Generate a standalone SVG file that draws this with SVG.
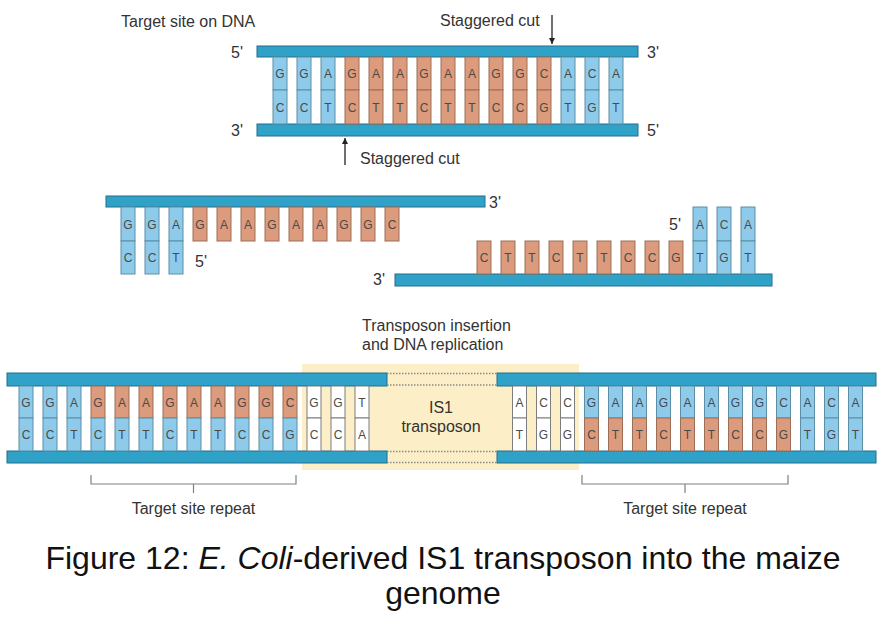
<svg xmlns="http://www.w3.org/2000/svg" width="887" height="619" viewBox="0 0 887 619">
<style>
.bar{fill:#30a2c7;stroke:#226f8e;stroke-width:1}
.b{fill:#8ecbea;stroke:#5d8ea6;stroke-width:1}
.o{fill:#db9b7c;stroke:#9c6e58;stroke-width:1}
.w{fill:#ffffff;stroke:#7d7d7d;stroke-width:1}
.n{font-family:"Liberation Sans",Arial,sans-serif;font-size:12px;fill:#4a4a4a;text-anchor:middle}
.lbl{font-family:"Liberation Sans",Arial,sans-serif;font-size:16px;fill:#333333}
.mid{text-anchor:middle}
.dot{stroke:#8a8a8a;stroke-width:1.3;stroke-dasharray:1.5 1.5;fill:none}
.brk{stroke:#808080;stroke-width:1.2;fill:none}
.arr{stroke:#222;stroke-width:1.3;fill:none}
.cap{font-family:"Liberation Sans",Arial,sans-serif;font-size:32px;fill:#111111;text-anchor:middle}
</style>
<defs>
<marker id="ah" viewBox="0 0 10 10" refX="10" refY="5" markerWidth="6" markerHeight="6" orient="auto" markerUnits="userSpaceOnUse">
<path d="M0,0 L10,5 L0,10 z" fill="#222"/>
</marker>
</defs>
<rect width="887" height="619" fill="#ffffff"/>

<g id="target-site">
<text class="lbl" x="121" y="27">Target site on DNA</text>
<rect class="bar" x="257" y="46" width="381" height="11"/>
<rect class="bar" x="257" y="124" width="381" height="12"/>
<text class="lbl" x="231" y="57.5">5'</text>
<text class="lbl" x="647" y="57.5">3'</text>
<text class="lbl" x="231" y="136">3'</text>
<text class="lbl" x="647" y="136">5'</text>
<g>
<rect class="b" x="273" y="57" width="14" height="33"/><rect class="b" x="273" y="90" width="14" height="34"/>
<rect class="b" x="297" y="57" width="14" height="33"/><rect class="b" x="297" y="90" width="14" height="34"/>
<rect class="b" x="321" y="57" width="14" height="33"/><rect class="b" x="321" y="90" width="14" height="34"/>
<rect class="o" x="345" y="57" width="14" height="33"/><rect class="o" x="345" y="90" width="14" height="34"/>
<rect class="o" x="369" y="57" width="14" height="33"/><rect class="o" x="369" y="90" width="14" height="34"/>
<rect class="o" x="393" y="57" width="14" height="33"/><rect class="o" x="393" y="90" width="14" height="34"/>
<rect class="o" x="417" y="57" width="14" height="33"/><rect class="o" x="417" y="90" width="14" height="34"/>
<rect class="o" x="441" y="57" width="14" height="33"/><rect class="o" x="441" y="90" width="14" height="34"/>
<rect class="o" x="465" y="57" width="14" height="33"/><rect class="o" x="465" y="90" width="14" height="34"/>
<rect class="o" x="489" y="57" width="14" height="33"/><rect class="o" x="489" y="90" width="14" height="34"/>
<rect class="o" x="513" y="57" width="14" height="33"/><rect class="o" x="513" y="90" width="14" height="34"/>
<rect class="o" x="537" y="57" width="14" height="33"/><rect class="o" x="537" y="90" width="14" height="34"/>
<rect class="b" x="561" y="57" width="14" height="33"/><rect class="b" x="561" y="90" width="14" height="34"/>
<rect class="b" x="585" y="57" width="14" height="33"/><rect class="b" x="585" y="90" width="14" height="34"/>
<rect class="b" x="609" y="57" width="14" height="33"/><rect class="b" x="609" y="90" width="14" height="34"/>
</g>
<g>
<text class="n" x="280" y="78">G</text><text class="n" x="280" y="111.5">C</text>
<text class="n" x="304" y="78">G</text><text class="n" x="304" y="111.5">C</text>
<text class="n" x="328" y="78">A</text><text class="n" x="328" y="111.5">T</text>
<text class="n" x="352" y="78">G</text><text class="n" x="352" y="111.5">C</text>
<text class="n" x="376" y="78">A</text><text class="n" x="376" y="111.5">T</text>
<text class="n" x="400" y="78">A</text><text class="n" x="400" y="111.5">T</text>
<text class="n" x="424" y="78">G</text><text class="n" x="424" y="111.5">C</text>
<text class="n" x="448" y="78">A</text><text class="n" x="448" y="111.5">T</text>
<text class="n" x="472" y="78">A</text><text class="n" x="472" y="111.5">T</text>
<text class="n" x="496" y="78">G</text><text class="n" x="496" y="111.5">C</text>
<text class="n" x="520" y="78">G</text><text class="n" x="520" y="111.5">C</text>
<text class="n" x="544" y="78">C</text><text class="n" x="544" y="111.5">G</text>
<text class="n" x="568" y="78">A</text><text class="n" x="568" y="111.5">T</text>
<text class="n" x="592" y="78">C</text><text class="n" x="592" y="111.5">G</text>
<text class="n" x="616" y="78">A</text><text class="n" x="616" y="111.5">T</text>
</g>
<text class="lbl" x="440" y="25.5">Staggered cut</text>
<text class="lbl" x="360" y="164">Staggered cut</text>
</g>

<g id="cut-left">
<rect class="bar" x="106" y="196" width="379" height="11"/>
<text class="lbl" x="489" y="207.5">3'</text>
<text class="lbl" x="195" y="267">5'</text>
<rect class="b" x="121" y="207" width="14" height="34"/><rect class="b" x="121" y="241" width="14" height="33"/>
<rect class="b" x="145" y="207" width="14" height="34"/><rect class="b" x="145" y="241" width="14" height="33"/>
<rect class="b" x="169" y="207" width="14" height="34"/><rect class="b" x="169" y="241" width="14" height="33"/>
<rect class="o" x="193" y="207" width="14" height="34"/>
<rect class="o" x="217" y="207" width="14" height="34"/>
<rect class="o" x="241" y="207" width="14" height="34"/>
<rect class="o" x="265" y="207" width="14" height="34"/>
<rect class="o" x="289" y="207" width="14" height="34"/>
<rect class="o" x="313" y="207" width="14" height="34"/>
<rect class="o" x="337" y="207" width="14" height="34"/>
<rect class="o" x="361" y="207" width="14" height="34"/>
<rect class="o" x="385" y="207" width="14" height="34"/>
<text class="n" x="128" y="228.5">G</text><text class="n" x="128" y="262">C</text>
<text class="n" x="152" y="228.5">G</text><text class="n" x="152" y="262">C</text>
<text class="n" x="176" y="228.5">A</text><text class="n" x="176" y="262">T</text>
<text class="n" x="200" y="228.5">G</text>
<text class="n" x="224" y="228.5">A</text>
<text class="n" x="248" y="228.5">A</text>
<text class="n" x="272" y="228.5">G</text>
<text class="n" x="296" y="228.5">A</text>
<text class="n" x="320" y="228.5">A</text>
<text class="n" x="344" y="228.5">G</text>
<text class="n" x="368" y="228.5">G</text>
<text class="n" x="392" y="228.5">C</text>
</g>

<g id="cut-right">
<rect class="bar" x="395" y="274" width="377" height="12"/>
<text class="lbl" x="373" y="285">3'</text>
<text class="lbl" x="669" y="229.5">5'</text>
<rect class="o" x="477" y="241" width="14" height="33"/>
<rect class="o" x="501" y="241" width="14" height="33"/>
<rect class="o" x="525" y="241" width="14" height="33"/>
<rect class="o" x="549" y="241" width="14" height="33"/>
<rect class="o" x="573" y="241" width="14" height="33"/>
<rect class="o" x="597" y="241" width="14" height="33"/>
<rect class="o" x="621" y="241" width="14" height="33"/>
<rect class="o" x="645" y="241" width="14" height="33"/>
<rect class="o" x="669" y="241" width="14" height="33"/>
<rect class="b" x="693" y="207" width="14" height="34"/><rect class="b" x="693" y="241" width="14" height="33"/>
<rect class="b" x="717" y="207" width="14" height="34"/><rect class="b" x="717" y="241" width="14" height="33"/>
<rect class="b" x="741" y="207" width="14" height="34"/><rect class="b" x="741" y="241" width="14" height="33"/>
<text class="n" x="484" y="262">C</text>
<text class="n" x="508" y="262">T</text>
<text class="n" x="532" y="262">T</text>
<text class="n" x="556" y="262">C</text>
<text class="n" x="580" y="262">T</text>
<text class="n" x="604" y="262">T</text>
<text class="n" x="628" y="262">C</text>
<text class="n" x="652" y="262">C</text>
<text class="n" x="676" y="262">G</text>
<text class="n" x="700" y="228.5">A</text><text class="n" x="700" y="262">T</text>
<text class="n" x="724" y="228.5">C</text><text class="n" x="724" y="262">G</text>
<text class="n" x="748" y="228.5">A</text><text class="n" x="748" y="262">T</text>
</g>

<g id="insertion-label">
<text class="lbl" x="362" y="331">Transposon insertion</text>
<text class="lbl" x="362" y="350">and DNA replication</text>
</g>

<g id="is1-transposon">
<rect x="302" y="364" width="277" height="106" fill="#fcefc7"/>
<text class="lbl mid" x="441" y="412.5">IS1</text>
<text class="lbl mid" x="441" y="432">transposon</text>
</g>

<g id="result-left">
<rect class="bar" x="7" y="373" width="380" height="13"/>
<rect class="bar" x="7" y="451" width="380" height="12"/>
<rect class="b" x="19" y="386" width="14" height="32"/><rect class="b" x="19" y="418" width="14" height="33"/>
<rect class="b" x="43" y="386" width="14" height="32"/><rect class="b" x="43" y="418" width="14" height="33"/>
<rect class="b" x="67" y="386" width="14" height="32"/><rect class="b" x="67" y="418" width="14" height="33"/>
<rect class="o" x="91" y="386" width="14" height="32"/><rect class="b" x="91" y="418" width="14" height="33"/>
<rect class="o" x="115" y="386" width="14" height="32"/><rect class="b" x="115" y="418" width="14" height="33"/>
<rect class="o" x="139" y="386" width="14" height="32"/><rect class="b" x="139" y="418" width="14" height="33"/>
<rect class="o" x="163" y="386" width="14" height="32"/><rect class="b" x="163" y="418" width="14" height="33"/>
<rect class="o" x="187" y="386" width="14" height="32"/><rect class="b" x="187" y="418" width="14" height="33"/>
<rect class="o" x="211" y="386" width="14" height="32"/><rect class="b" x="211" y="418" width="14" height="33"/>
<rect class="o" x="235" y="386" width="14" height="32"/><rect class="b" x="235" y="418" width="14" height="33"/>
<rect class="o" x="259" y="386" width="14" height="32"/><rect class="b" x="259" y="418" width="14" height="33"/>
<rect class="o" x="283" y="386" width="14" height="32"/><rect class="b" x="283" y="418" width="14" height="33"/>
<rect class="w" x="307" y="386" width="14" height="32"/><rect class="w" x="307" y="418" width="14" height="33"/>
<rect class="w" x="331" y="386" width="14" height="32"/><rect class="w" x="331" y="418" width="14" height="33"/>
<rect class="w" x="355" y="386" width="14" height="32"/><rect class="w" x="355" y="418" width="14" height="33"/>
<text class="n" x="26" y="406.5">G</text><text class="n" x="26" y="439">C</text>
<text class="n" x="50" y="406.5">G</text><text class="n" x="50" y="439">C</text>
<text class="n" x="74" y="406.5">A</text><text class="n" x="74" y="439">T</text>
<text class="n" x="98" y="406.5">G</text><text class="n" x="98" y="439">C</text>
<text class="n" x="122" y="406.5">A</text><text class="n" x="122" y="439">T</text>
<text class="n" x="146" y="406.5">A</text><text class="n" x="146" y="439">T</text>
<text class="n" x="170" y="406.5">G</text><text class="n" x="170" y="439">C</text>
<text class="n" x="194" y="406.5">A</text><text class="n" x="194" y="439">T</text>
<text class="n" x="218" y="406.5">A</text><text class="n" x="218" y="439">T</text>
<text class="n" x="242" y="406.5">G</text><text class="n" x="242" y="439">C</text>
<text class="n" x="266" y="406.5">G</text><text class="n" x="266" y="439">C</text>
<text class="n" x="290" y="406.5">C</text><text class="n" x="290" y="439">G</text>
<text class="n" x="314" y="406.5">G</text><text class="n" x="314" y="439">C</text>
<text class="n" x="338" y="406.5">G</text><text class="n" x="338" y="439">C</text>
<text class="n" x="362" y="406.5">T</text><text class="n" x="362" y="439">A</text>
</g>

<g id="result-right">
<rect class="bar" x="497" y="373" width="379" height="13"/>
<rect class="bar" x="497" y="451" width="379" height="12"/>
<rect class="w" x="512.5" y="386" width="14" height="32"/><rect class="w" x="512.5" y="418" width="14" height="33"/>
<rect class="w" x="536.5" y="386" width="14" height="32"/><rect class="w" x="536.5" y="418" width="14" height="33"/>
<rect class="w" x="560.5" y="386" width="14" height="32"/><rect class="w" x="560.5" y="418" width="14" height="33"/>
<rect class="b" x="584.5" y="386" width="14" height="32"/><rect class="o" x="584.5" y="418" width="14" height="33"/>
<rect class="b" x="608.5" y="386" width="14" height="32"/><rect class="o" x="608.5" y="418" width="14" height="33"/>
<rect class="b" x="632.5" y="386" width="14" height="32"/><rect class="o" x="632.5" y="418" width="14" height="33"/>
<rect class="b" x="656.5" y="386" width="14" height="32"/><rect class="o" x="656.5" y="418" width="14" height="33"/>
<rect class="b" x="680.5" y="386" width="14" height="32"/><rect class="o" x="680.5" y="418" width="14" height="33"/>
<rect class="b" x="704.5" y="386" width="14" height="32"/><rect class="o" x="704.5" y="418" width="14" height="33"/>
<rect class="b" x="728.5" y="386" width="14" height="32"/><rect class="o" x="728.5" y="418" width="14" height="33"/>
<rect class="b" x="752.5" y="386" width="14" height="32"/><rect class="o" x="752.5" y="418" width="14" height="33"/>
<rect class="b" x="776.5" y="386" width="14" height="32"/><rect class="o" x="776.5" y="418" width="14" height="33"/>
<rect class="b" x="800.5" y="386" width="14" height="32"/><rect class="b" x="800.5" y="418" width="14" height="33"/>
<rect class="b" x="824.5" y="386" width="14" height="32"/><rect class="b" x="824.5" y="418" width="14" height="33"/>
<rect class="b" x="848.5" y="386" width="14" height="32"/><rect class="b" x="848.5" y="418" width="14" height="33"/>
<text class="n" x="519.5" y="406.5">A</text><text class="n" x="519.5" y="439">T</text>
<text class="n" x="543.5" y="406.5">C</text><text class="n" x="543.5" y="439">G</text>
<text class="n" x="567.5" y="406.5">C</text><text class="n" x="567.5" y="439">G</text>
<text class="n" x="591.5" y="406.5">G</text><text class="n" x="591.5" y="439">C</text>
<text class="n" x="615.5" y="406.5">A</text><text class="n" x="615.5" y="439">T</text>
<text class="n" x="639.5" y="406.5">A</text><text class="n" x="639.5" y="439">T</text>
<text class="n" x="663.5" y="406.5">G</text><text class="n" x="663.5" y="439">C</text>
<text class="n" x="687.5" y="406.5">A</text><text class="n" x="687.5" y="439">T</text>
<text class="n" x="711.5" y="406.5">A</text><text class="n" x="711.5" y="439">T</text>
<text class="n" x="735.5" y="406.5">G</text><text class="n" x="735.5" y="439">C</text>
<text class="n" x="759.5" y="406.5">G</text><text class="n" x="759.5" y="439">C</text>
<text class="n" x="783.5" y="406.5">C</text><text class="n" x="783.5" y="439">G</text>
<text class="n" x="807.5" y="406.5">A</text><text class="n" x="807.5" y="439">T</text>
<text class="n" x="831.5" y="406.5">C</text><text class="n" x="831.5" y="439">G</text>
<text class="n" x="855.5" y="406.5">A</text><text class="n" x="855.5" y="439">T</text>
</g>

<g id="connectors">
<line class="arr" x1="552" y1="15" x2="552" y2="44" marker-end="url(#ah)"/>
<line class="arr" x1="345" y1="165" x2="345" y2="138" marker-end="url(#ah)"/>
<path class="dot" d="M387,373.5 H497 M387,385 H497 M387,451.5 H497 M387,462.5 H497"/>
<path class="brk" d="M91,475 V484 H296 V475 M193.5,484 V493"/>
<path class="brk" d="M582,475 V484 H788 V475 M685,484 V493"/>
</g>

<g id="labels">
<text class="lbl mid" x="193.5" y="514">Target site repeat</text>
<text class="lbl mid" x="685" y="514">Target site repeat</text>
</g>

<g id="caption">
<text class="cap" x="443" y="569">Figure 12: <tspan font-style="italic">E. Coli</tspan>-derived IS1 transposon into the maize</text>
<text class="cap" x="443" y="604">genome</text>
</g>
</svg>
